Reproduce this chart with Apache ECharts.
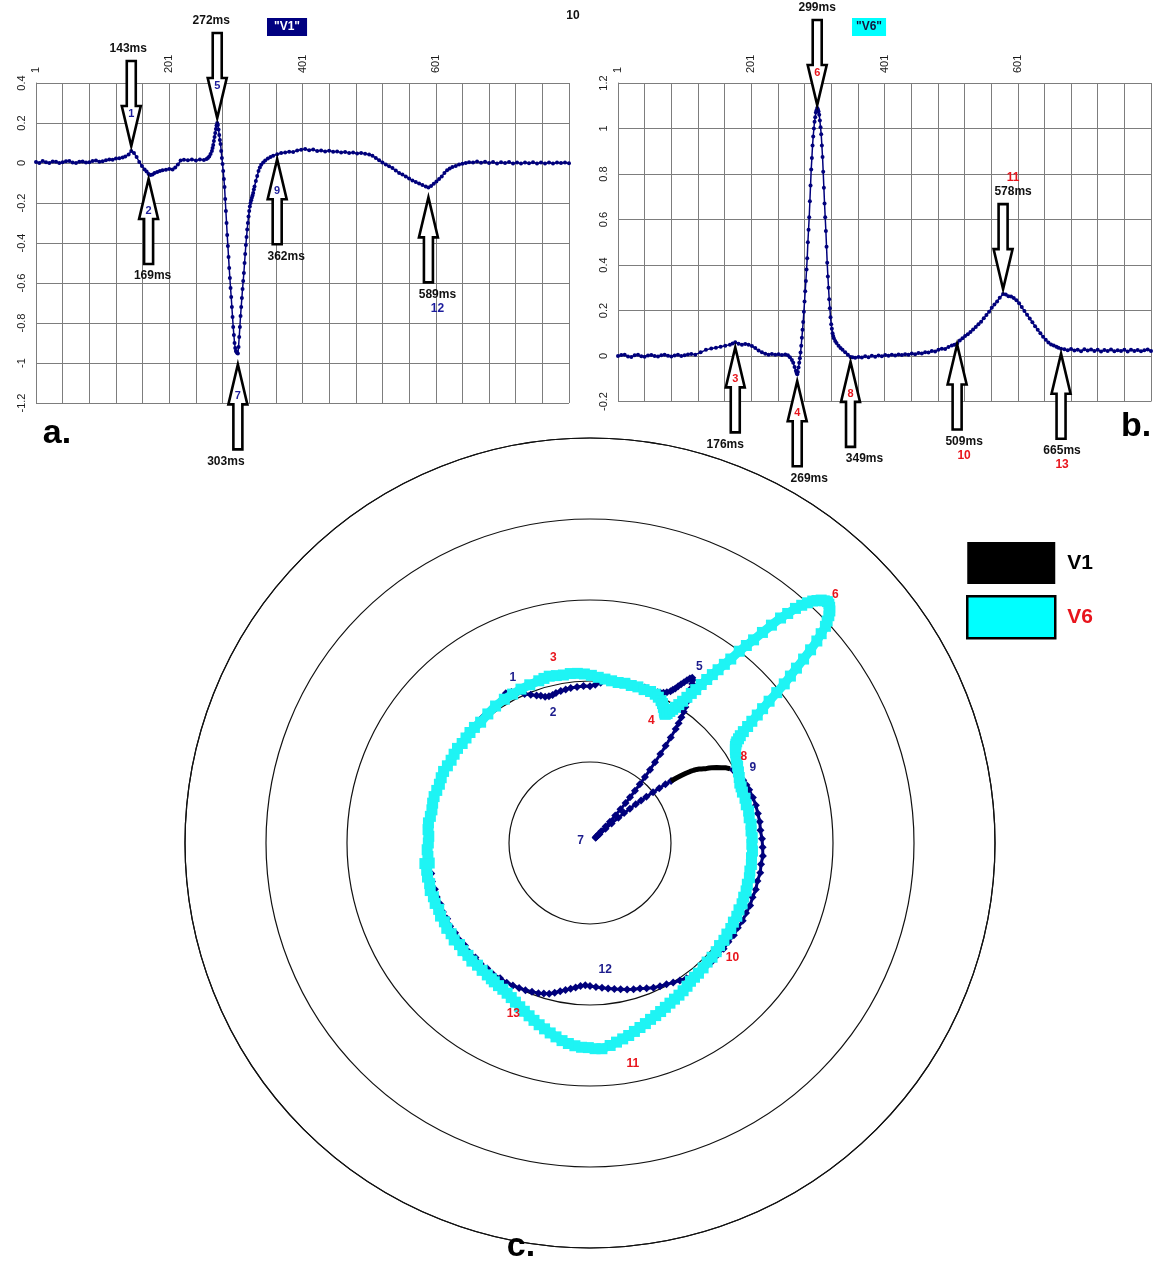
<!DOCTYPE html>
<html>
<head>
<meta charset="utf-8">
<title>V1 / V6</title>
<script src="https://cdn.jsdelivr.net/npm/echarts@6/dist/echarts.min.js"></script>
<style>
  html, body { margin: 0; padding: 0; background: #fff; }
  #chart { width: 1153px; height: 1267px; }
</style>
</head>
<body>
<div id="chart"></div>
<script>
// ---- Lead V1: sample time (ms) and amplitude ----
const v1Times = [
  0, 5, 10, 15, 20, 25, 30, 35, 40, 45,
  50, 55, 60, 65, 70, 75, 80, 85, 90, 95,
  100, 105, 110, 115, 120, 125, 130, 134, 139, 143,
  147, 151, 155, 159, 163, 166, 169, 172, 175, 178,
  182, 186, 190, 195, 200, 205, 209, 213, 217, 222,
  228, 234, 240, 246, 252, 256, 258, 260, 262, 264,
  265, 266, 267, 268, 269, 270, 271,
  272, 273, 274, 275, 276, 277, 278, 279, 280, 281,
  282, 283, 284, 285, 286, 287, 288, 289, 290, 291,
  292, 293, 294, 295, 296, 297, 298, 299, 300, 301,
  302, 303, 304, 305, 306, 307, 308, 309, 310, 311,
  312, 313, 314, 315, 316, 317, 318, 319, 320, 321,
  322, 323, 324, 325, 326, 327, 328,
  330, 332, 334, 336, 338, 341, 344, 348, 352, 356, 362,
  368, 374, 380, 386, 392, 398, 404, 410, 416, 422,
  428, 434, 440, 446, 452, 458, 464, 470, 476, 482,
  488, 494, 500, 505, 510, 515, 520, 525, 530, 535,
  540, 545, 550, 555, 560, 565, 570, 575, 580, 585,
  589, 593, 597, 601, 605, 609, 613, 617, 621, 625,
  630, 635, 640, 645, 650, 656, 662, 668, 674, 680,
  686, 692, 698, 704, 710, 716, 722, 728, 734, 740,
  746, 752, 758, 764, 770, 776, 782, 788, 794, 800
];
const v1Values = [
  0.005, 0, 0.01, 0.004, 0, 0.008, 0.006, 0, 0.004, 0.009,
  0.01, 0.002, 0, 0.006, 0.008, 0.002, 0.004, 0.01, 0.012, 0.006,
  0.009, 0.014, 0.018, 0.016, 0.022, 0.024, 0.027, 0.032, 0.042, 0.06,
  0.05, 0.03, 0.005, -0.015, -0.032, -0.042, -0.055, -0.06, -0.058, -0.05,
  -0.045, -0.04, -0.036, -0.034, -0.03, -0.032, -0.022, -0.008, 0.012, 0.016,
  0.014, 0.018, 0.013, 0.017, 0.015, 0.02, 0.025, 0.033, 0.045, 0.06,
  0.075, 0.09, 0.11, 0.13, 0.15, 0.17, 0.188,
  0.2, 0.19, 0.168, 0.14, 0.115, 0.095, 0.06, 0.025, -0.005, -0.04,
  -0.08, -0.12, -0.18, -0.24, -0.3, -0.36, -0.415, -0.47, -0.525, -0.575,
  -0.625, -0.67, -0.72, -0.77, -0.82, -0.86, -0.9, -0.925, -0.94, -0.945,
  -0.95, -0.952, -0.92, -0.87, -0.82, -0.765, -0.72, -0.675, -0.63, -0.59,
  -0.55, -0.5, -0.455, -0.41, -0.37, -0.333, -0.3, -0.268, -0.24, -0.218,
  -0.2, -0.186, -0.174, -0.162, -0.15, -0.132, -0.117,
  -0.09, -0.065, -0.04, -0.022, -0.009, 0.002, 0.012, 0.022, 0.03, 0.036, 0.044,
  0.05, 0.052, 0.056, 0.055, 0.062, 0.066, 0.07, 0.064, 0.067, 0.06,
  0.063, 0.058, 0.061, 0.056, 0.058, 0.052, 0.055, 0.05, 0.052, 0.047,
  0.05, 0.046, 0.042, 0.036, 0.025, 0.014, 0.003, -0.008, -0.016, -0.025,
  -0.038, -0.05, -0.058, -0.067, -0.078, -0.087, -0.095, -0.103, -0.11, -0.117,
  -0.122, -0.115, -0.104, -0.093, -0.08, -0.067, -0.05, -0.036, -0.028, -0.02,
  -0.015, -0.008, -0.004, 0, 0.004, 0.002, 0.007, 0.001, 0.006, 0,
  0.005, -0.002, 0.004, 0, 0.005, -0.002, 0.003, -0.003, 0.003, -0.001,
  0.004, -0.002, 0.003, -0.003, 0.002, -0.002, 0.003, 0, 0.002, -0.001
];

// ---- Lead V6: sample time (ms) and amplitude ----
const v6Times = [
  0, 5, 10, 15, 20, 25, 30, 35, 40, 45,
  50, 55, 60, 65, 70, 75, 80, 85, 90, 95,
  100, 105, 110, 116, 124, 132, 140, 147, 154, 161,
  168, 172, 176, 181, 186, 191, 196, 201, 206, 211,
  216, 221, 226, 231, 236, 241, 246, 251, 255, 258,
  261, 263, 265, 267, 268,
  269, 270, 271, 272, 273, 274, 275, 276, 277, 278,
  279, 280, 281, 282, 283, 284, 285, 286, 287, 288,
  289, 290, 291, 292, 293, 294, 295, 296, 297, 298,
  299, 300, 301, 302, 303, 304, 305, 306, 307, 308,
  309, 310, 311, 312, 313, 314, 315, 316, 317, 318,
  319, 320, 321, 322, 323, 324,
  326, 328, 331, 334, 337, 341, 345, 349,
  352, 356, 361, 366, 371, 376, 381, 386, 391, 396,
  401, 406, 411, 416, 421, 426, 431, 436, 441, 446,
  451, 456, 461, 466, 471, 476, 481, 486, 491, 496,
  501, 505, 509, 513, 517, 521, 525, 529, 533, 537,
  541, 545, 549, 553, 557, 561, 565, 569, 573, 578,
  582, 586, 590, 594, 598, 602, 606, 610, 614, 618,
  622, 626, 630, 634, 638, 642, 646, 650, 654, 658,
  661, 665, 670, 675, 680, 685, 690, 695, 700, 705,
  710, 715, 720, 725, 730, 735, 740, 745, 750, 755,
  760, 765, 770, 775, 780, 785, 790, 795, 800
];
const v6Values = [
  0, 0.004, 0.006, -0.002, -0.004, 0.003, 0.005, -0.001, -0.003, 0.002,
  0.004, 0, -0.002, 0.003, 0.006, 0.001, -0.002, 0.002, 0.005, 0,
  0.003, 0.007, 0.009, 0.006, 0.016, 0.027, 0.033, 0.036, 0.041, 0.045,
  0.05, 0.055, 0.06, 0.054, 0.05, 0.053, 0.05, 0.044, 0.035, 0.024,
  0.016, 0.01, 0.006, 0.009, 0.005, 0.008, 0.004, 0.007, 0.003, -0.006,
  -0.018, -0.03, -0.048, -0.065, -0.074,
  -0.08, -0.07, -0.05, -0.03, -0.01, 0.015, 0.045, 0.08, 0.115, 0.15,
  0.195, 0.24, 0.285, 0.33, 0.38, 0.43, 0.5, 0.555, 0.61, 0.68,
  0.75, 0.82, 0.87, 0.925, 0.965, 1.0, 1.03, 1.05, 1.07, 1.08,
  1.09, 1.085, 1.075, 1.06, 1.035, 1.005, 0.975, 0.925, 0.875, 0.81,
  0.74, 0.67, 0.61, 0.55, 0.48, 0.41, 0.35, 0.3, 0.25, 0.21,
  0.17, 0.14, 0.12, 0.1, 0.088, 0.078,
  0.066, 0.057, 0.045, 0.035, 0.027, 0.016, 0.006, -0.004,
  -0.005, -0.008, -0.004, -0.007, -0.001, -0.005, 0.001, -0.003, 0.002, -0.001,
  0.004, 0.001, 0.005, 0.002, 0.007, 0.004, 0.008, 0.006, 0.011, 0.008,
  0.013, 0.011, 0.017, 0.015, 0.022, 0.02, 0.028, 0.032, 0.031, 0.04,
  0.046, 0.05, 0.055, 0.068, 0.078, 0.088, 0.096, 0.105, 0.116, 0.128,
  0.14, 0.151, 0.166, 0.18, 0.195, 0.212, 0.226, 0.24, 0.256, 0.272,
  0.27, 0.263, 0.262, 0.255, 0.245, 0.232, 0.215, 0.198, 0.181, 0.165,
  0.148, 0.131, 0.115, 0.1, 0.085, 0.071, 0.059, 0.051, 0.046, 0.041,
  0.036, 0.032, 0.03, 0.025, 0.031, 0.024, 0.028, 0.021, 0.03, 0.024,
  0.029, 0.022, 0.027, 0.02, 0.026, 0.022, 0.029, 0.021, 0.025, 0.022,
  0.027, 0.02, 0.028, 0.022, 0.026, 0.021, 0.025, 0.029, 0.022
];

// ---- Sample-number tick labels on the strip charts ----
const sampleTickPositions = [0, 200, 400, 600];
const sampleTickTexts = ['1', '201', '401', '601'];

// ---- Marked instants (ms) and their reference numbers ----
const v1MarkTimes = [143, 169, 272, 303, 362, 589];
const v1MarkNumbers = ['1', '2', '5', '7', '9', '12'];
const v6MarkTimes = [176, 269, 299, 349, 509, 578, 665];
const v6MarkNumbers = ['3', '4', '6', '8', '10', '11', '13'];

// V1 stretch drawn as a plain black trace in the loop plot
const v1PlainStretch = [316, 337];

// ---------------------------------------------------------------
const FONT = '"Liberation Sans", Arial, Helvetica, sans-serif';
const NAVY = '#00007c';
const CYAN = '#1ef4f4';
const RED = '#e8141c';
const GRID_GRAY = '#7d7d7d';

const RING_SAMPLES = 760;      // samples per full turn of the loop plot
const RING_TOP_SAMPLE = 205;   // sample that sits at twelve o'clock

// arrow styling per reference number
const arrowLayout = {
  '1': { dir: 'down', num: 'in', dx: -3 },
  '2': { dir: 'up', num: 'in', dx: 4 },
  '5': { dir: 'down', num: 'in', dx: -6 },
  '7': { dir: 'up', num: 'in', dx: -12, gap: 11 },
  '9': { dir: 'up', num: 'in', dx: 9 },
  '12': { dir: 'up', num: 'out', dx: 9, gap: 10 },
  '3': { dir: 'up', num: 'in', dx: -10 },
  '4': { dir: 'up', num: 'in', dx: 12, gap: 7 },
  '6': { dir: 'down', num: 'in', dx: 0, gap: 3 },
  '8': { dir: 'up', num: 'in', dx: 14 },
  '10': { dir: 'up', num: 'out', dx: 7, gap: 1 },
  '11': { dir: 'down', num: 'out', dx: 10 },
  '13': { dir: 'up', num: 'out', dx: 1 }
};
// label offsets around the loop plot
const ringLabelOffset = {
  '1': [7, -16], '2': [8, 16], '3': [4, -19], '4': [-14, 6], '5': [7, -11],
  '6': [8, -7], '7': [-15, 3], '8': [4, -26], '9': [0, -30], '10': [42, -24],
  '11': [31, 15], '12': [20, -15], '13': [26, 39]
};

function zip(times, values) {
  const n = Math.min(times.length, values.length);
  const out = [];
  for (let i = 0; i < n; i++) out.push([times[i], values[i]]);
  return out;
}
function valueAt(times, values, t) {
  return values[times.indexOf(t)];
}
function ringData(times, values) {
  const out = [];
  const n = Math.min(times.length, values.length);
  for (let i = 0; i < n; i++) {
    if (times[i] <= RING_SAMPLES) out.push([values[i], times[i]]);
  }
  return out;
}

function sampleAxis(gridIndex) {
  return {
    type: 'value', gridIndex: gridIndex, position: 'top',
    min: 0, max: 800, interval: 40,
    axisLine: { show: true, lineStyle: { color: GRID_GRAY, width: 1 } },
    axisTick: { show: false },
    axisLabel: {
      rotate: 90, margin: 10, fontSize: 11, color: '#1a1a1a', fontFamily: FONT,
      formatter: function (v) {
        const i = sampleTickPositions.indexOf(v);
        return i >= 0 ? sampleTickTexts[i] : '';
      }
    },
    splitLine: { show: true, lineStyle: { color: GRID_GRAY, width: 1 } }
  };
}
function ampAxis(gridIndex, min, max) {
  return {
    type: 'value', gridIndex: gridIndex, min: min, max: max, interval: 0.2,
    axisLine: { show: true, lineStyle: { color: GRID_GRAY, width: 1 } },
    axisTick: { show: false },
    axisLabel: {
      rotate: 90, margin: 9, fontSize: 11, color: '#1a1a1a', fontFamily: FONT,
      formatter: function (v) { return String(Math.round(v * 10) / 10); }
    },
    splitLine: { show: true, lineStyle: { color: GRID_GRAY, width: 1 } }
  };
}

const v1Ring = ringData(v1Times, v1Values);
const v6Ring = ringData(v6Times, v6Values);
const v1PlainRing = v1Ring.filter(function (d) {
  return d[1] >= v1PlainStretch[0] && d[1] <= v1PlainStretch[1];
});

const option = {
  animation: false,
  textStyle: { fontFamily: FONT },
  title: [
    {
      text: '"V1"', left: 267, top: 18, padding: [3, 7, 3, 7],
      backgroundColor: '#000080',
      textStyle: { color: '#ffffff', fontSize: 12, fontWeight: 'bold', fontFamily: FONT }
    },
    {
      text: '"V6"', left: 852, top: 18, padding: [3, 4, 3, 4],
      backgroundColor: '#00ffff',
      textStyle: { color: '#14143c', fontSize: 12, fontWeight: 'bold', fontFamily: FONT }
    }
  ],
  legend: {
    orient: 'vertical', left: 961, top: 537,
    itemWidth: 88, itemHeight: 42, itemGap: 11,
    icon: 'rect', selectedMode: false,
    textStyle: { fontSize: 21, fontWeight: 'bold', color: '#000', fontFamily: FONT, padding: [0, 0, 0, 7] },
    data: [
      { name: 'V1', itemStyle: { color: '#000000', borderWidth: 0 } },
      { name: 'V6', itemStyle: { color: '#00ffff', borderColor: '#000000', borderWidth: 2.5 }, textStyle: { color: RED } }
    ]
  },
  grid: [
    { left: 36, top: 83, width: 533, height: 320 },
    { left: 618, top: 83, width: 533, height: 318.5 }
  ],
  xAxis: [sampleAxis(0), sampleAxis(1)],
  yAxis: [ampAxis(0, -1.2, 0.4), ampAxis(1, -0.2, 1.2)],
  polar: { center: [590, 843], radius: 405 },
  angleAxis: {
    type: 'value', min: 0, max: RING_SAMPLES,
    startAngle: 90 + RING_TOP_SAMPLE * 360 / RING_SAMPLES, clockwise: true,
    axisLine: { show: true, lineStyle: { color: '#111', width: 1.2 } },
    axisTick: { show: false }, axisLabel: { show: false }, splitLine: { show: false }
  },
  radiusAxis: {
    type: 'value', min: -1, max: 1.5, interval: 0.5,
    axisLine: { show: false }, axisTick: { show: false }, axisLabel: { show: false },
    splitLine: { show: true, lineStyle: { color: '#111', width: 1.2 } }
  },
  series: [
    {
      name: 'V1', type: 'line', xAxisIndex: 0, yAxisIndex: 0,
      data: zip(v1Times, v1Values),
      symbol: 'circle', symbolSize: 4, showSymbol: true,
      lineStyle: { color: NAVY, width: 1.5 }, itemStyle: { color: NAVY },
      silent: true, z: 3
    },
    {
      name: 'V6', type: 'line', xAxisIndex: 1, yAxisIndex: 1,
      data: zip(v6Times, v6Values),
      symbol: 'circle', symbolSize: 4, showSymbol: true,
      lineStyle: { color: NAVY, width: 1.5 }, itemStyle: { color: NAVY },
      silent: true, z: 3
    },
    {
      name: 'V1', type: 'line', coordinateSystem: 'polar',
      data: v1Ring,
      symbol: 'diamond',
      symbolSize: function (val) {
        return (val[1] > v1PlainStretch[0] && val[1] < v1PlainStretch[1]) ? 0 : 8;
      },
      showSymbol: true,
      lineStyle: { color: NAVY, width: 3 }, itemStyle: { color: NAVY },
      silent: true, z: 2
    },
    {
      name: 'V1 trace', type: 'line', coordinateSystem: 'polar',
      data: v1PlainRing, showSymbol: false,
      lineStyle: { color: '#000000', width: 5 },
      silent: true, z: 3
    },
    {
      name: 'V6', type: 'line', coordinateSystem: 'polar',
      data: v6Ring,
      symbol: 'rect', symbolSize: 11, showSymbol: true,
      lineStyle: { color: CYAN, width: 9 }, itemStyle: { color: CYAN },
      silent: true, z: 4
    }
  ]
};

const chart = echarts.init(document.getElementById('chart'), null, { renderer: 'canvas' });
chart.setOption(option);

function textEl(str, x, y, color, size) {
  return {
    type: 'text', z: 110, silent: true, x: x, y: y,
    style: {
      text: str, fill: color, fontFamily: FONT, fontWeight: 'bold', fontSize: size,
      align: 'center', verticalAlign: 'middle', textAlign: 'center', textVerticalAlign: 'middle'
    }
  };
}
function arrowEl(x, tipY, dir) {
  const s = dir === 'down' ? -1 : 1;
  const L = 85, hl = 40, hw = 9.5, sw = 4.5;
  return {
    type: 'polygon', z: 100, silent: true,
    shape: {
      points: [
        [x - sw, tipY + s * L], [x + sw, tipY + s * L], [x + sw, tipY + s * hl],
        [x + hw, tipY + s * hl], [x, tipY], [x - hw, tipY + s * hl], [x - sw, tipY + s * hl]
      ]
    },
    style: { fill: '#ffffff', stroke: '#000000', lineWidth: 2.6, lineJoin: 'miter' }
  };
}

function buildGraphics() {
  const els = [];

  function stripMarks(gridIndex, times, values, markTimes, markNumbers, numColor) {
    markTimes.forEach(function (t, i) {
      const num = markNumbers[i];
      const lay = arrowLayout[num];
      const v = valueAt(times, values, t);
      const p = chart.convertToPixel({ gridIndex: gridIndex }, [t, v]);
      const s = lay.dir === 'down' ? -1 : 1;
      const gap = lay.gap !== undefined ? lay.gap : 5;
      const tipY = p[1] + s * gap;
      els.push(arrowEl(p[0], tipY, lay.dir));
      const labelY = tipY + s * 85 + s * 12;
      els.push(textEl(t + 'ms', p[0] + lay.dx, labelY, '#111111', 12));
      if (lay.num === 'in') {
        els.push(textEl(num, p[0], tipY + s * 32, numColor, 11));
      } else {
        els.push(textEl(num, p[0] + lay.dx, labelY + s * 14, numColor, 12));
      }
    });
  }
  stripMarks(0, v1Times, v1Values, v1MarkTimes, v1MarkNumbers, '#1c1c9c');
  stripMarks(1, v6Times, v6Values, v6MarkTimes, v6MarkNumbers, RED);

  function ringMarks(seriesIndex, times, values, markTimes, markNumbers, color) {
    markTimes.forEach(function (t, i) {
      const num = markNumbers[i];
      const v = valueAt(times, values, t);
      const p = chart.convertToPixel({ seriesIndex: seriesIndex }, [v, t]);
      const off = ringLabelOffset[num];
      els.push(textEl(num, p[0] + off[0], p[1] + off[1], color, 12));
    });
  }
  ringMarks(2, v1Times, v1Values, v1MarkTimes, v1MarkNumbers, '#1c1c8c');
  ringMarks(4, v6Times, v6Values, v6MarkTimes, v6MarkNumbers, RED);

  els.push(textEl('10', 573, 16, '#111111', 12));
  els.push(textEl('a.', 57, 434, '#000000', 34));
  els.push(textEl('b.', 1136, 427, '#000000', 34));
  els.push(textEl('c.', 521, 1247, '#000000', 34));
  return els;
}

chart.setOption({ graphic: { elements: buildGraphics() } });
</script>
</body>
</html>
